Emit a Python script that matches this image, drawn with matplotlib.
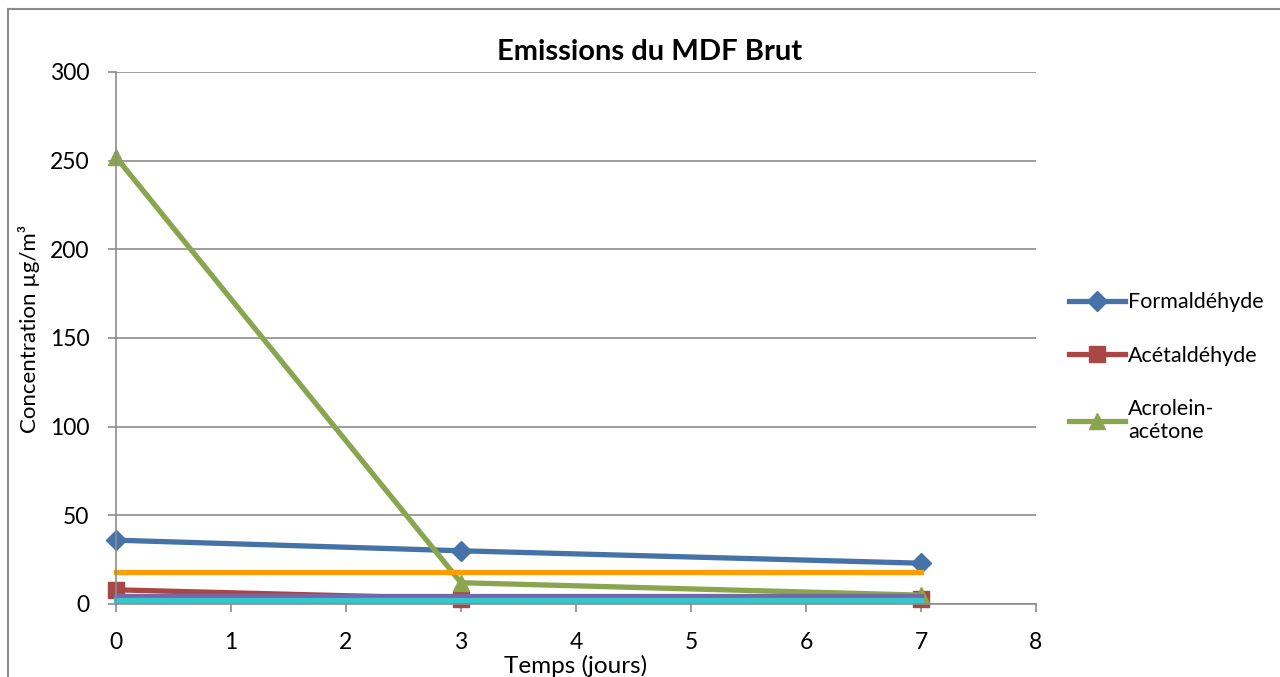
import matplotlib.pyplot as plt
from matplotlib.lines import Line2D

plt.rcParams['font.family'] = ['Lato', 'DejaVu Sans']

# data
jours = [0, 3, 7]
formaldehyde = [36, 30, 23]
acetaldehyde = [8, 3, 3]
acroleine = [252, 12, 5]
serie_orange = [18, 18, 18]
serie_violet = [4.5, 4.5, 4.5]
serie_cyan = [2, 2, 2]

x_ticks = [0, 1, 2, 3, 4, 5, 6, 7, 8]
y_ticks = [0, 50, 100, 150, 200, 250, 300]

fig = plt.figure(figsize=(12.8, 6.77), dpi=100)
ax = fig.add_axes([116 / 1280, 1 - 604 / 677, (1036 - 116) / 1280, (604 - 72) / 677])

# outer chart frame (only top and left visible in the picture)
fig.add_artist(Line2D([8 / 1280, 8 / 1280], [0, 1 - 9 / 677], transform=fig.transFigure,
                      color='#8c8c8c', lw=1.5))
fig.add_artist(Line2D([8 / 1280, 1], [1 - 9 / 677, 1 - 9 / 677], transform=fig.transFigure,
                      color='#8c8c8c', lw=1.5))

ax.plot(jours, formaldehyde, color='#4572a7', lw=3.8, marker='D', ms=10, label='Formaldéhyde',
        clip_on=False)
ax.plot(jours, acetaldehyde, color='#aa4643', lw=3.8, marker='s', ms=11, label='Acétaldéhyde',
        clip_on=False)
ax.plot(jours, acroleine, color='#89a54e', lw=3.8, marker='^', ms=12, label='Acrolein-\nacétone',
        clip_on=False)
ax.plot(jours, serie_orange, color='#ff9c00', lw=3.8, clip_on=False)
ax.plot(jours, serie_violet, color='#7667a6', lw=3.8, clip_on=False)
ax.plot(jours, serie_cyan, color='#33c6cc', lw=3.8, clip_on=False)

ax.set_xlim(0, 8)
ax.set_ylim(0, 300)
ax.set_xticks(x_ticks)
ax.set_yticks(y_ticks)
ax.tick_params(axis='both', labelsize=16.5, color='#8c8c8c', length=6, width=1.2)
ax.tick_params(axis='x', pad=14)
ax.tick_params(axis='y', pad=13)
ax.grid(axis='y', color='#8c8c8c', lw=1.2)
ax.set_axisbelow(True)
for s in ['top', 'right']:
    ax.spines[s].set_visible(False)
for s in ['left', 'bottom']:
    ax.spines[s].set_color('#8c8c8c')
    ax.spines[s].set_linewidth(1.2)

fig.text(650 / 1280, 1 - 52 / 677, 'Emissions du MDF Brut', ha='center', va='center',
         fontsize=21, fontweight='bold')
fig.text(576 / 1280, 1 - 666 / 677, 'Temps (jours)', ha='center', va='center', fontsize=17.5)
fig.text(29 / 1280, 1 - 329 / 677, 'Concentration µg/m³', ha='center', va='center',
         fontsize=16, rotation=90)

leg = ax.legend(loc='upper left', bbox_to_anchor=(1050 / 1280, 1 - 273 / 677),
                bbox_transform=fig.transFigure, frameon=False, fontsize=15.5,
                handlelength=2.6, handletextpad=0.12, labelspacing=1.55)

fig.savefig('out.png', dpi=100)
